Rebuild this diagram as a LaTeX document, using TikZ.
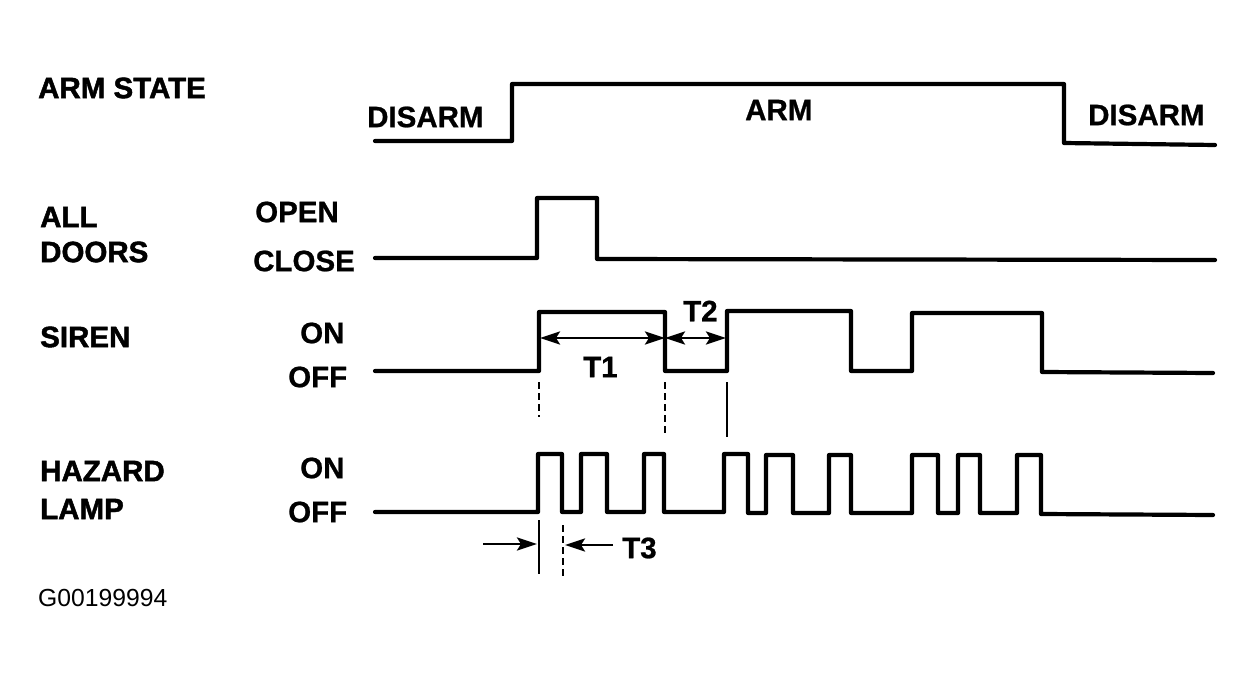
\documentclass[tikz,border=0pt]{standalone}
\usepackage{fontspec}
\setmainfont{Liberation Sans}
\newfontfamily\heavyA{Liberation Sans}[BoldFeatures={FakeBold=1.6}]
\newfontfamily\heavyB{Liberation Sans}[BoldFeatures={FakeBold=0.8}]
\usetikzlibrary{arrows.meta}
\begin{document}
\begin{tikzpicture}[x=1pt,y=-1pt,
  wave/.style={line width=4.2pt,line join=round,line cap=round},
  lbl/.style={anchor=west,inner sep=0pt,font=\fontsize{29.5}{30}\selectfont\heavyA\bfseries},
  lblb/.style={anchor=west,inner sep=0pt,font=\fontsize{29.5}{30}\selectfont\heavyB\bfseries},
  code/.style={anchor=west,inner sep=0pt,font=\fontsize{24.7}{26}\selectfont},
  guide/.style={line width=2pt},
  dguide/.style={line width=2pt,dash pattern=on 7pt off 4pt},
  tip/.tip={Stealth[length=20pt,width=13pt,inset=4pt]},
  dim/.style={line width=2.8pt,tip-tip},
  pt/.style={line width=2.8pt,-tip}]
\useasboundingbox (0,0) rectangle (1254,680);
\fill[white] (0,0) rectangle (1254,680);
% labels
\node[lbl] (armstate) at (38,88) {ARM STATE};
\node[lblb] (disarm1) at (367,117) {DISARM};
\node[lblb] (arm) at (745,110) {ARM};
\node[lblb] (disarm2) at (1088,115) {DISARM};
\node[lbl] (all) at (40,217) {ALL};
\node[lbl] (doors) at (40,252) {DOORS};
\node[lblb] (open) at (255,212) {OPEN};
\node[lblb] (close) at (253,261) {CLOSE};
\node[lbl] (siren) at (40,337) {SIREN};
\node[lblb] (son) at (300,333) {ON};
\node[lblb] (soff) at (288,377) {OFF};
\node[lbl] (hazard) at (40,471) {HAZARD};
\node[lbl] (lamp) at (40,509) {LAMP};
\node[lblb] (hon) at (300,468) {ON};
\node[lblb] (hoff) at (288,512) {OFF};
\node[code] (gcode) at (38,598) {G00199994};
\node[lblb] (t1) at (583,367) {T1};
\node[lblb] (t2) at (683,311) {T2};
\node[lblb] (t3) at (622,548) {T3};
% arm state
\draw[wave] (375,141) -- (512,141) -- (512,84) -- (1064,84) -- (1064,143) -- (1215,145);
% all doors
\draw[wave] (375,258) -- (537,258) -- (537,198) -- (597,198) -- (597,259) -- (1215,260);
% siren
\draw[wave] (375,371) -- (539,371) -- (539,312) -- (665,312) -- (665,371) -- (727,371)
  -- (727,311) -- (851,311) -- (851,371) -- (912,371) -- (912,313) -- (1042,313)
  -- (1042,372) -- (1213,373);
% hazard lamp
\draw[wave] (375,512) -- (538,512)
  -- (538,454) -- (562,454) -- (562,512) -- (581,512)
  -- (581,454) -- (607,454) -- (607,512) -- (644,512)
  -- (644,454) -- (664,454) -- (664,512) -- (724,512)
  -- (724,454) -- (748,454) -- (748,513) -- (766,513)
  -- (766,455) -- (793,455) -- (793,513) -- (829,513)
  -- (829,455) -- (851,455) -- (851,513) -- (912,513)
  -- (912,455) -- (938,455) -- (938,513) -- (958,513)
  -- (958,455) -- (980,455) -- (980,513) -- (1017,513)
  -- (1017,455) -- (1041,455) -- (1041,514) -- (1213,515);
% T1 / T2 dimensions
\coordinate (t1a) at (540,338);
\coordinate (t1b) at (665,338);
\coordinate (t2b) at (726,338);
\draw[dim] (t1a) -- (t1b);
\draw[dim] (t1b) -- (t2b);
% guide lines
\coordinate (g1a) at (539,382); \coordinate (g1b) at (539,417);
\coordinate (g2a) at (665,382); \coordinate (g2b) at (665,436);
\coordinate (g3a) at (727,382); \coordinate (g3b) at (727,437);
\draw[dguide] (g1a) -- (g1b);
\draw[dguide] (g2a) -- (g2b);
\draw[guide] (g3a) -- (g3b);
% T3
\coordinate (g4a) at (539,520); \coordinate (g4b) at (539,574);
\coordinate (g5a) at (563,525); \coordinate (g5b) at (563,578);
\draw[guide] (g4a) -- (g4b);
\draw[dguide] (g5a) -- (g5b);
\coordinate (a3s) at (483,544); \coordinate (a3e) at (537,544);
\coordinate (b3s) at (613,545); \coordinate (b3e) at (565,545);
\draw[pt] (a3s) -- (a3e);
\draw[pt] (b3s) -- (b3e);
\end{tikzpicture}
\end{document}
